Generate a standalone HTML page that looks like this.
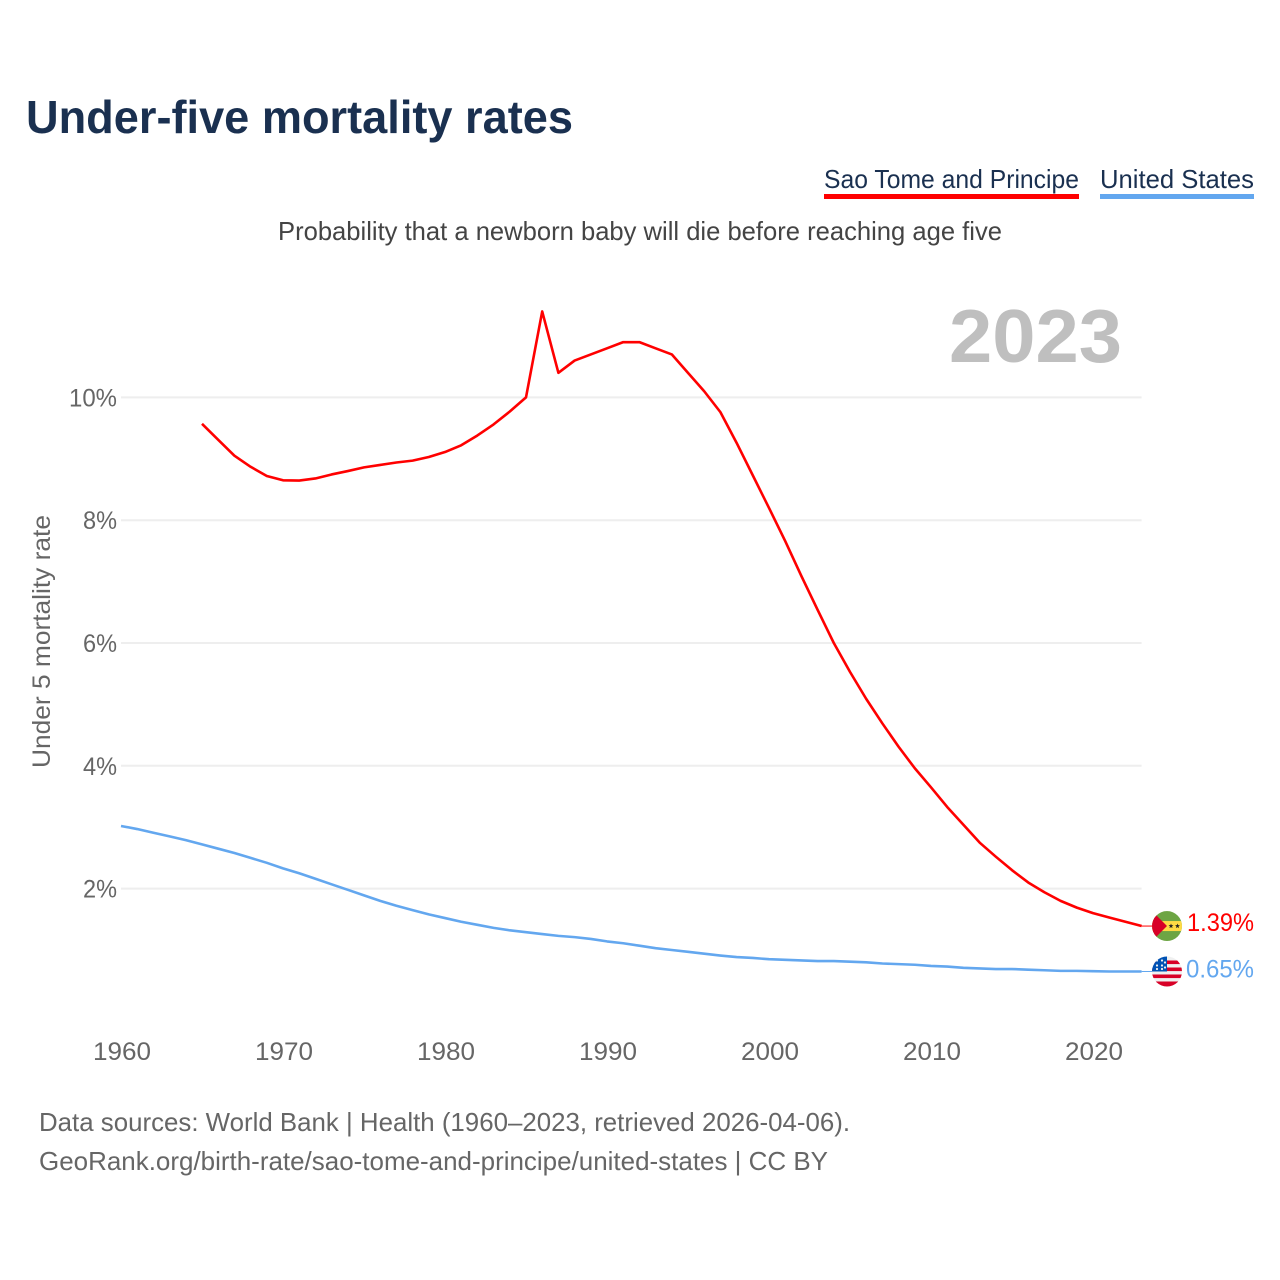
<!DOCTYPE html>
<html>
<head>
<meta charset="utf-8">
<title>Under-five mortality rates</title>
<style>
html,body{margin:0;padding:0;background:#fff;}
svg{display:block;}
text{font-family:"Liberation Sans",Arial,sans-serif;}
</style>
</head>
<body>
<svg id="chart" xmlns="http://www.w3.org/2000/svg" width="1280" height="1280" viewBox="0 0 1280 1280">
  <rect x="0" y="0" width="1280" height="1280" fill="#fff"/>
  <text x="26" y="133" font-size="46" font-weight="700" fill="#1a3050" textLength="547" lengthAdjust="spacingAndGlyphs">Under-five mortality rates</text>
  <g>
    <text x="824" y="188" font-size="26" fill="#1a3050" textLength="255" lengthAdjust="spacingAndGlyphs">Sao Tome and Principe</text>
    <rect x="824" y="194" width="255" height="5" fill="#ff0000"/>
    <text x="1100" y="188" font-size="26" fill="#1a3050" textLength="154" lengthAdjust="spacingAndGlyphs">United States</text>
    <rect x="1100" y="194" width="154" height="5" fill="#63a7ef"/>
  </g>
  <text x="278" y="240" font-size="26" fill="#444" textLength="724" lengthAdjust="spacingAndGlyphs">Probability that a newborn baby will die before reaching age five</text>
  <text x="949" y="362" font-size="75" font-weight="700" fill="#bfbfbf" textLength="173" lengthAdjust="spacingAndGlyphs">2023</text>
  <text transform="translate(50,768) rotate(-90)" x="0" y="0" font-size="25" fill="#666" textLength="253" lengthAdjust="spacingAndGlyphs">Under 5 mortality rate</text>
  <g id="grid"></g>
  <g id="yticks"></g>
  <g id="xticks"></g>
  <g id="series"></g>
  <g id="ends"></g>
  <text x="39" y="1131" font-size="26" fill="#666" textLength="811" lengthAdjust="spacingAndGlyphs">Data sources: World Bank | Health (1960–2023, retrieved 2026-04-06).</text>
  <text x="39" y="1170" font-size="26" fill="#666" textLength="789" lengthAdjust="spacingAndGlyphs">GeoRank.org/birth-rate/sao-tome-and-principe/united-states | CC BY</text>
</svg>
<script>
var saoTomeStartYear = 1965;
var saoTomeValues = [9.57,9.31,9.05,8.87,8.72,8.65,8.645,8.68,8.745,8.80,8.86,8.90,8.94,8.97,9.03,9.11,9.22,9.38,9.56,9.77,10.0,11.4,10.4,10.6,10.7,10.8,10.9,10.9,10.8,10.7,10.4,10.1,9.76,9.26,8.73,8.2,7.66,7.09,6.54,6.0,5.53,5.09,4.69,4.31,3.96,3.65,3.33,3.04,2.75,2.52,2.30,2.10,1.94,1.80,1.69,1.60,1.53,1.46,1.39];
var usStartYear = 1960;
var usValues = [3.02,2.97,2.91,2.85,2.79,2.72,2.65,2.58,2.50,2.42,2.33,2.25,2.16,2.07,1.98,1.89,1.80,1.72,1.65,1.58,1.52,1.46,1.41,1.36,1.32,1.29,1.26,1.23,1.21,1.18,1.14,1.11,1.07,1.03,1.00,0.97,0.94,0.91,0.885,0.87,0.85,0.84,0.83,0.82,0.82,0.81,0.80,0.78,0.77,0.76,0.74,0.73,0.71,0.70,0.69,0.69,0.68,0.67,0.66,0.66,0.655,0.65,0.65,0.65];
var yTickValues = [2,4,6,8,10];
var xTickYears = [1960,1970,1980,1990,2000,2010,2020];

var NS = 'http://www.w3.org/2000/svg';
function xScale(year){ return 121 + (year - 1960) * 16.2; }
function yScale(v){ return 1011.4 - v * 61.4; }
function make(tag, attrs, parent, txt){
  var el = document.createElementNS(NS, tag);
  for (var k in attrs) el.setAttribute(k, attrs[k]);
  if (txt !== undefined) el.textContent = txt;
  parent.appendChild(el);
  return el;
}
var grid = document.getElementById('grid');
var yticks = document.getElementById('yticks');
var xticks = document.getElementById('xticks');
var series = document.getElementById('series');
var ends = document.getElementById('ends');

yTickValues.forEach(function(v){
  var line = make('line', {x1:121, x2:1141.6, y1:yScale(v), y2:yScale(v), stroke:'#eeeeee', 'stroke-width':2}, grid);
  
  
  var label = make('text', {x:117, y:yScale(v)+9, 'text-anchor':'end', 'font-size':25, fill:'#666', textLength: v >= 10 ? 48 : 34, lengthAdjust:'spacingAndGlyphs'}, yticks, v + '%');
  
  
});
xTickYears.forEach(function(y){
  var label = make('text', {x:xScale(y)+1, y:1060, 'text-anchor':'middle', 'font-size':25, fill:'#666', textLength:58, lengthAdjust:'spacingAndGlyphs'}, xticks, String(y));
  
  
});
function pathOf(values, startYear){
  return values.map(function(v, i){
    return (i ? 'L' : 'M') + xScale(startYear + i).toFixed(2) + ' ' + yScale(v).toFixed(2);
  }).join(' ');
}
var usLine = make('path', {d:pathOf(usValues, usStartYear), fill:'none', stroke:'#63a7ef', 'stroke-width':2.6, 'stroke-linejoin':'round'}, series);


var stpLine = make('path', {d:pathOf(saoTomeValues, saoTomeStartYear), fill:'none', stroke:'#ff0000', 'stroke-width':2.6, 'stroke-linejoin':'round'}, series);



var endX = xScale(2023);
var stpLast = saoTomeValues[saoTomeValues.length - 1];
var usLast = usValues[usValues.length - 1];
var cxFlag = 1167;

var stpConn = make('line', {x1:endX, x2:1152, y1:yScale(stpLast), y2:yScale(stpLast), stroke:'#ff0000', 'stroke-width':1}, ends);


var usConn = make('line', {x1:endX, x2:1152, y1:yScale(usLast), y2:yScale(usLast), stroke:'#63a7ef', 'stroke-width':1}, ends);



var defs = make('defs', {}, ends);
var c1 = make('clipPath', {id:'clipStp'}, defs);
make('circle', {cx:cxFlag, cy:yScale(stpLast), r:15}, c1);
var c2 = make('clipPath', {id:'clipUs'}, defs);
make('circle', {cx:cxFlag, cy:yScale(usLast), r:15}, c2);

function starPoints(cx, cy, r){
  var pts = [];
  for (var i = 0; i < 10; i++) {
    var rad = i % 2 ? r * 0.42 : r;
    var a = -Math.PI / 2 + i * Math.PI / 5;
    pts.push((cx + rad * Math.cos(a)).toFixed(2) + ',' + (cy + rad * Math.sin(a)).toFixed(2));
  }
  return pts.join(' ');
}

var fy = yScale(stpLast);
var stpFlag = make('g', {'clip-path':'url(#clipStp)'}, ends);


make('rect', {x:cxFlag-15, y:fy-15, width:30, height:30, fill:'#6da544'}, stpFlag);
make('rect', {x:cxFlag-15, y:fy-5, width:30, height:10, fill:'#ffda44'}, stpFlag);
make('polygon', {points:(cxFlag-16)+','+(fy-16)+' '+cxFlag+','+fy+' '+(cxFlag-16)+','+(fy+16), fill:'#d80027'}, stpFlag);
make('polygon', {points:starPoints(cxFlag+4, fy, 2.6), fill:'#222'}, stpFlag);
make('polygon', {points:starPoints(cxFlag+10.5, fy, 2.6), fill:'#222'}, stpFlag);

var uy = yScale(usLast);
var usFlag = make('g', {'clip-path':'url(#clipUs)'}, ends);


make('rect', {x:cxFlag-15, y:uy-15, width:30, height:30, fill:'#f0f0f0'}, usFlag);
[-11,-4,3,10].forEach(function(off){
  make('rect', {x:cxFlag-15, y:uy+off, width:30, height:off === 10 ? 5 : 3.6, fill:'#d80027'}, usFlag);
});
make('rect', {x:cxFlag-15, y:uy-15, width:15, height:15, fill:'#0052b4'}, usFlag);
[[-10,-11],[-5,-11],[-10,-6],[-5,-6],[-10,-2.5],[-5,-2.5],[-2,-9],[-2,-4]].forEach(function(p){
  make('circle', {cx:cxFlag+p[0], cy:uy+p[1], r:1.1, fill:'#f0f0f0'}, usFlag);
});

var stpLabel = make('text', {x:1187, y:yScale(stpLast)+5, 'font-size':25, fill:'#ff0000', textLength:67, lengthAdjust:'spacingAndGlyphs'}, ends, stpLast.toFixed(2) + '%');


var usLabel = make('text', {x:1186, y:yScale(usLast)+6, 'font-size':25, fill:'#63a7ef', textLength:68, lengthAdjust:'spacingAndGlyphs'}, ends, usLast.toFixed(2) + '%');


</script>
</body>
</html>
